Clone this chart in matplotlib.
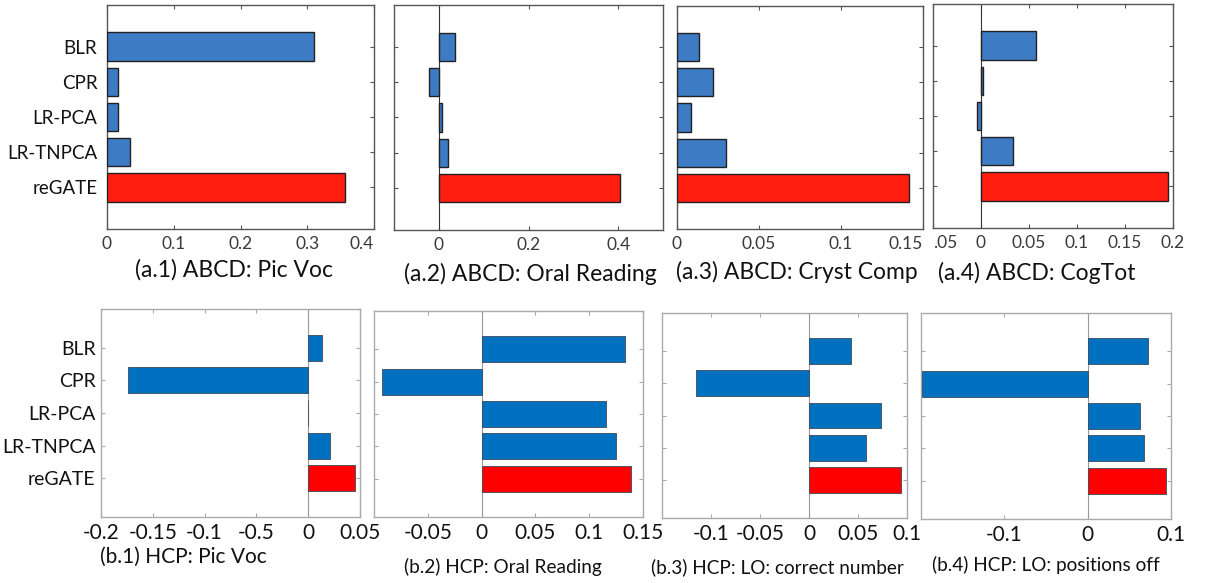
import matplotlib
matplotlib.use("Agg")
import matplotlib.pyplot as plt

plt.rcParams['font.family'] = ['Lato', 'DejaVu Sans']

methods = ["BLR", "CPR", "LR-PCA", "LR-TNPCA", "reGATE"]

# ABCD row
a1_vals = [0.31, 0.017, 0.017, 0.034, 0.357]
a2_vals = [0.035, -0.022, 0.007, 0.02, 0.405]
a3_vals = [0.0134, 0.022, 0.0085, 0.030, 0.1415]
a4_vals = [0.057, 0.002, -0.004, 0.033, 0.195]

# HCP row
b1_vals = [0.0135, -0.174, 0.0, 0.021, 0.045]
b2_vals = [0.133, -0.0925, 0.116, 0.125, 0.139]
b3_vals = [0.043, -0.115, 0.0735, 0.058, 0.094]
b4_vals = [0.072, -0.199, 0.063, 0.067, 0.094]

a_titles = ["(a.1) ABCD: Pic Voc", "(a.2) ABCD: Oral Reading",
            "(a.3) ABCD: Cryst Comp", "(a.4) ABCD: CogTot"]
b_titles = ["(b.1) HCP: Pic Voc", "(b.2) HCP: Oral Reading",
            "(b.3) HCP: LO: correct number", "(b.4) HCP: LO: positions off"]

a_xlims = [(0, 0.4), (-0.1, 0.5), (0, 0.15), (-0.05, 0.2)]
a_ticks = [[0, 0.1, 0.2, 0.3, 0.4], [0, 0.2, 0.4], [0, 0.05, 0.1, 0.15],
           [-0.05, 0, 0.05, 0.1, 0.15, 0.2]]
a_ticklabels = [["0", "0.1", "0.2", "0.3", "0.4"], ["0", "0.2", "0.4"],
                ["0", "0.05", "0.1", "0.15"],
                [".05", "0", "0.05", "0.1", "0.15", "0.2"]]
b_xlims = [(-0.2, 0.05), (-0.1, 0.15), (-0.15, 0.1), (-0.2, 0.1)]
b_ticks = [[-0.2, -0.15, -0.1, -0.05, 0, 0.05], [-0.05, 0, 0.05, 0.1, 0.15],
           [-0.1, -0.05, 0, 0.05, 0.1], [-0.1, 0, 0.1]]
b_ticklabels = [["-0.2", "-0.15", "-0.1", "-0.5", "0", "0.05"],
                ["-0.05", "0", "0.05", "0.1", "0.15"],
                ["-0.1", "-0.05", "0", "0.05", "0.1"], ["-0.1", "0", "0.1"]]

W, H = 1226, 583
fig = plt.figure(figsize=(W / 100, H / 100), dpi=100)


def box(l, t, r, b):
    return [l / W, 1 - b / H, (r - l) / W, (b - t) / H]


a_boxes = [(107, 5, 374, 229), (394, 5, 663, 230), (677, 6, 923, 229), (933, 4, 1173, 228)]
b_boxes = [(101, 309, 360, 517), (374, 311, 643, 517), (662, 313, 907, 518), (921, 313, 1171, 519)]
a_caps = [(234, 270), (530, 274), (797, 272), (1037, 273)]
b_caps = [(183, 557), (503, 567), (777, 567), (1046, 565)]
b_cap_sizes = [15, 13.7, 13.7, 13.7]

a_data = [a1_vals, a2_vals, a3_vals, a4_vals]
b_data = [b1_vals, b2_vals, b3_vals, b4_vals]
ypos = list(range(len(methods)))


def draw(ax, vals, top_row, show_labels, xlim, ticks, ticklabels):
    if top_row:
        blue, red, edge, frame, tcol = "#3d7cc4", "#ff1e10", "#222222", "#555555", "#3a3a3a"
        lw_edge = 1.0
        tfs, lfs, ypad = 12.5, 13.5, 7
    else:
        blue, red, edge, frame, tcol = "#0070c0", "#ff0000", "#3a4a5a", "#aaaaaa", "#111111"
        lw_edge = 0.6
        tfs, lfs, ypad = 15, 14, 4
    colors = [blue] * 4 + [red]
    ax.barh(ypos, vals, height=0.8, color=colors, edgecolor=edge, linewidth=lw_edge, zorder=3)
    ax.set_xlim(*xlim)
    ax.set_ylim(4 + 1.18, -1.18)
    if xlim[0] < 0:
        ax.axvline(0, color="#333333" if top_row else "#999999", lw=0.8, zorder=2)
    ax.set_xticks(ticks)
    ax.set_xticklabels(ticklabels, fontsize=tfs, color=tcol)
    ax.set_yticks(ypos)
    if show_labels:
        ax.set_yticklabels(methods, fontsize=lfs, color="#111111")
    else:
        ax.set_yticklabels([])
    ax.tick_params(direction="in", top=True, right=True, length=3, color=frame,
                   pad=5 if top_row else 4)
    ax.tick_params(axis="y", pad=ypad)
    for s in ax.spines.values():
        s.set_color(frame)
        s.set_linewidth(1.0)
    return ax


a_axes = []
for i in range(4):
    ax = fig.add_axes(box(*a_boxes[i]))
    draw(ax, a_data[i], True, i == 0, a_xlims[i], a_ticks[i], a_ticklabels[i])
    a_axes.append(ax)
    fig.text(a_caps[i][0] / W, 1 - a_caps[i][1] / H, a_titles[i], ha="center", va="center",
             fontsize=16.5, color="#111111")

# edge labels that sit inside the panel in the reference
a_axes[0].get_xticklabels()[-1].set_ha("right")
a_axes[2].get_xticklabels()[-1].set_ha("right")
a_axes[3].get_xticklabels()[0].set_ha("left")

for i in range(4):
    ax = fig.add_axes(box(*b_boxes[i]))
    draw(ax, b_data[i], False, i == 0, b_xlims[i], b_ticks[i], b_ticklabels[i])
    fig.text(b_caps[i][0] / W, 1 - b_caps[i][1] / H, b_titles[i], ha="center", va="center",
             fontsize=b_cap_sizes[i], color="#111111")

fig.savefig("out.png", dpi=100)
